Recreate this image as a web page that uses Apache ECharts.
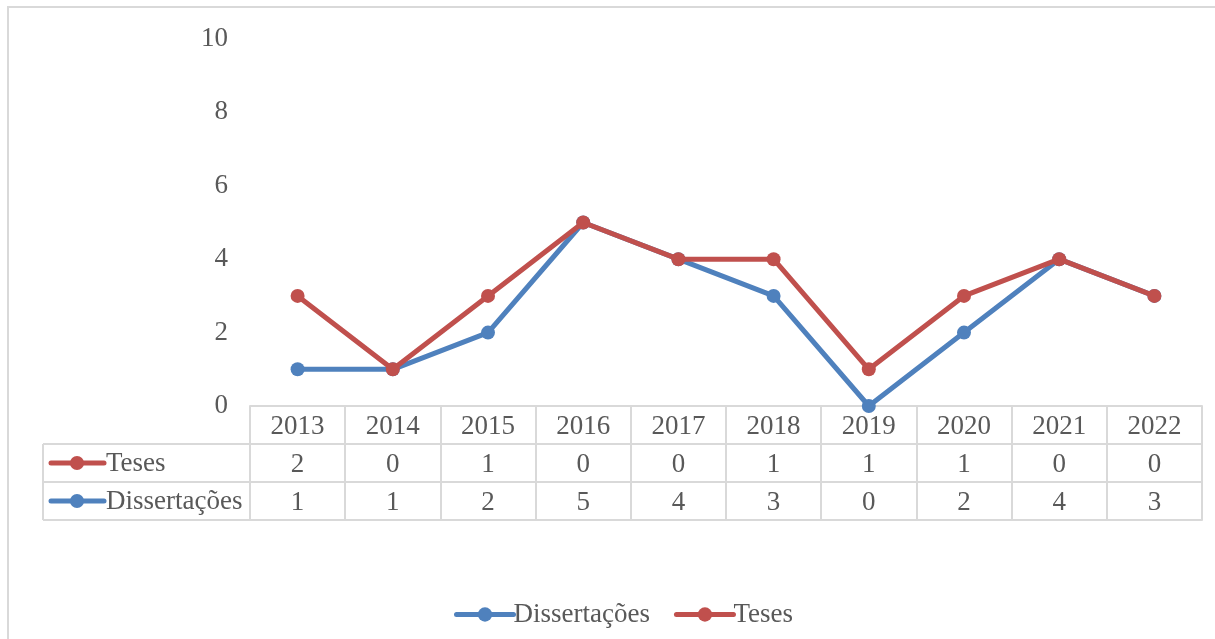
<!DOCTYPE html>
<html>
<head>
    <meta charset="utf-8">
    <script src="https://cdn.jsdelivr.net/npm/echarts@6/dist/echarts.min.js"></script>
</head>
<body style="margin: 0; background: #fff">
    <div id="container" style="width: 1215px; height: 639px"></div>
    <script type="text/javascript">
        // data
        var years = ['2013', '2014', '2015', '2016', '2017', '2018', '2019', '2020', '2021', '2022'];
        var dissertacoes = [1, 1, 2, 5, 4, 3, 0, 2, 4, 3];
        var teses = [2, 0, 1, 0, 0, 1, 1, 1, 0, 0];
        var yTicks = [0, 2, 4, 6, 8, 10];

        var blue = '#4F81BD';
        var red = '#C0504D';
        var grey = '#d9d9d9';
        var txt = '#595959';
        var font = '"Liberation Serif", "Times New Roman", serif';
        var fs = 27;

        var dom = document.getElementById('container');
        var myChart = echarts.init(dom);

        var rowH = 38;
        var lbl = { color: txt, fontSize: fs, fontFamily: font, margin: 7 };

        function tableAxis(offset, values, showLine) {
            return {
                type: 'category',
                data: years,
                position: 'bottom',
                offset: offset,
                boundaryGap: true,
                axisLine: { show: showLine, lineStyle: { color: grey, width: 2 } },
                axisTick: { show: false },
                axisLabel: values ? Object.assign({
                    interval: 0,
                    formatter: function (v, i) { return String(values[i]); }
                }, lbl) : { show: false }
            };
        }

        var option = {
            animation: false,
            textStyle: { fontFamily: font },
            grid: { left: 250, right: 13, top: 39, bottom: 233 },
            legend: {
                left: 449,
                top: 596,
                itemWidth: 57,
                itemHeight: 18,
                itemGap: 24,
                lineStyle: { width: 5, cap: 'round' },
                textStyle: { color: txt, fontSize: fs, fontFamily: font, padding: [0, 0, 0, -5] },
                data: ['Dissertações', 'Teses']
            },
            xAxis: [
                {
                    type: 'category',
                    data: years,
                    boundaryGap: true,
                    axisLine: { lineStyle: { color: grey, width: 2 } },
                    axisTick: { show: true, length: rowH * 3, lineStyle: { color: grey, width: 2 } },
                    axisLabel: Object.assign({ interval: 0 }, lbl)
                },
                tableAxis(rowH, teses, true),
                tableAxis(rowH * 2, dissertacoes, true),
                tableAxis(rowH * 3, null, true)
            ],
            yAxis: {
                type: 'value',
                min: yTicks[0],
                max: yTicks[yTicks.length - 1],
                interval: 2,
                splitLine: { show: false },
                axisLine: { show: false },
                axisTick: { show: false },
                axisLabel: { color: txt, fontSize: fs, fontFamily: font, margin: 22, padding: [3, 0, 0, 0] }
            },
            series: [
                {
                    name: 'Dissertações',
                    type: 'line',
                    stack: 'total',
                    data: dissertacoes,
                    symbol: 'circle',
                    symbolSize: 14,
                    lineStyle: { color: blue, width: 5 },
                    itemStyle: { color: blue },
                    z: 2
                },
                {
                    name: 'Teses',
                    type: 'line',
                    stack: 'total',
                    data: teses,
                    symbol: 'circle',
                    symbolSize: 14,
                    lineStyle: { color: red, width: 5 },
                    itemStyle: { color: red },
                    z: 3
                }
            ],
            graphic: [
                // outer chart border (top and left edges visible)
                { type: 'rect', shape: { x: 8, y: 7, width: 1300, height: 700 }, style: { fill: 'none', stroke: grey, lineWidth: 2 }, silent: true },
                // left column of the data table
                { type: 'line', shape: { x1: 43, y1: 406 + rowH, x2: 250, y2: 406 + rowH }, style: { stroke: grey, lineWidth: 2 } },
                { type: 'line', shape: { x1: 43, y1: 406 + rowH * 2, x2: 250, y2: 406 + rowH * 2 }, style: { stroke: grey, lineWidth: 2 } },
                { type: 'line', shape: { x1: 43, y1: 406 + rowH * 3, x2: 250, y2: 406 + rowH * 3 }, style: { stroke: grey, lineWidth: 2 } },
                { type: 'line', shape: { x1: 43, y1: 406 + rowH, x2: 43, y2: 406 + rowH * 3 }, style: { stroke: grey, lineWidth: 2 } },
                // row keys
                { type: 'line', shape: { x1: 51, y1: 463, x2: 104, y2: 463 }, style: { stroke: red, lineWidth: 5, lineCap: 'round' } },
                { type: 'circle', shape: { cx: 77, cy: 463, r: 7 }, style: { fill: red } },
                { type: 'text', x: 106, y: 464, style: { text: 'Teses', fill: txt, fontSize: fs, fontFamily: font, verticalAlign: 'middle' } },
                { type: 'line', shape: { x1: 51, y1: 501, x2: 104, y2: 501 }, style: { stroke: blue, lineWidth: 5, lineCap: 'round' } },
                { type: 'circle', shape: { cx: 77, cy: 501, r: 7 }, style: { fill: blue } },
                { type: 'text', x: 106, y: 502, style: { text: 'Dissertações', fill: txt, fontSize: fs, fontFamily: font, verticalAlign: 'middle' } }
            ]
        };

        myChart.setOption(option, true);
    </script>
</body>
</html>
